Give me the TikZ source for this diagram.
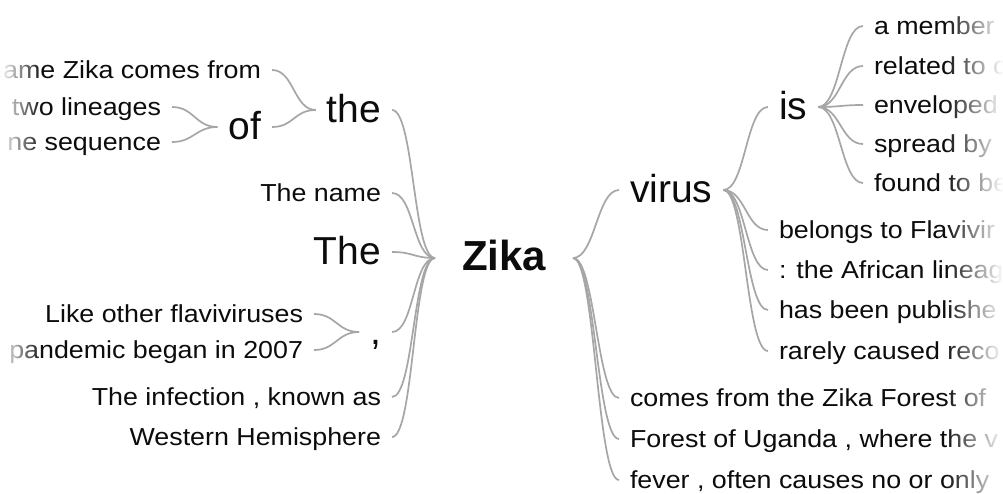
\documentclass[tikz,border=0pt]{standalone}
\usepackage{fontspec}
\setmainfont{Liberation Sans}
\newfontfamily\smallfnt{Liberation Sans}[FakeStretch=1.09]
\usetikzlibrary{fadings}
\definecolor{txt}{HTML}{0C0C0C}
\definecolor{link}{HTML}{A6A6A6}
\tikzset{
  wsmall/.style={inner sep=0pt, outer xsep=11pt, outer ysep=0pt, text height=17pt, text depth=1pt, text=txt, font=\smallfnt\fontsize{24.6}{26}\selectfont},
  wbig/.style={inner sep=0pt, outer xsep=11pt, outer ysep=0pt, text height=27pt, text depth=3pt, text=txt, font=\fontsize{39}{40}\selectfont},
  link/.style={draw=link, line width=1.7pt},
}
\begin{document}
\begin{tikzpicture}[x=1pt,y=-1pt]
\useasboundingbox (0,0) rectangle (1003,493);
\fill[white] (0,0) rectangle (1003,493);
% root
\node[inner sep=0pt, outer xsep=27pt, text height=29pt, text depth=5pt, text=txt, font=\bfseries\fontsize{42}{44}\selectfont, anchor=base west] (zika) at (435,270) {Zika};
% left side
\node[wbig, anchor=base east] (the) at (392,122) {the};
\node[wbig, anchor=base east] (of) at (272,139) {of};
\node[wsmall, anchor=base east] (l1) at (272,78) {name Zika comes from};
\node[wsmall, anchor=base east] (l2) at (172,115) {two lineages};
\node[wsmall, anchor=base east] (l3) at (172,150) {ne sequence};
\node[wsmall, anchor=base east] (l4) at (392,201) {The name};
\node[wbig, anchor=base east] (The) at (392,264) {The};
\node[wbig, anchor=base east] (comma) at (392,344) {,};
\node[wsmall, anchor=base east] (l5) at (314,322) {Like other flaviviruses};
\node[wsmall, anchor=base east] (l6) at (314,358) {pandemic began in 2007};
\node[wsmall, anchor=base east] (l7) at (392,405) {The infection , known as};
\node[wsmall, anchor=base east] (l8) at (392,445) {Western Hemisphere};
% right side
\node[wbig, anchor=base west] (virus) at (619,202) {virus};
\node[wbig, anchor=base west] (is) at (768,119) {is};
\node[wsmall, anchor=base west] (r1) at (863,34) {a member};
\node[wsmall, anchor=base west] (r2) at (863,74) {related to c};
\node[wsmall, anchor=base west] (r3) at (863,113) {enveloped};
\node[wsmall, anchor=base west] (r4) at (863,152) {spread by};
\node[wsmall, anchor=base west] (r5) at (863,191) {found to be};
\node[wsmall, anchor=base west] (v1) at (768,238) {belongs to Flavivir};
\node[wsmall, anchor=base west] (v2) at (768,278) {: the African lineag};
\node[wsmall, anchor=base west] (v3) at (768,318) {has been publishe};
\node[wsmall, anchor=base west] (v4) at (768,359) {rarely caused reco};
\node[wsmall, anchor=base west] (z1) at (619,406) {comes from the Zika Forest of};
\node[wsmall, anchor=base west] (z2) at (619,447) {Forest of Uganda , where the v};
\node[wsmall, anchor=base west] (z3) at (619,488) {fever , often causes no or only};
% connectors left
\foreach \c/\p in {l2/of, l3/of, l1/the, of/the, l5/comma, l6/comma, the/zika, l4/zika, The/zika, comma/zika, l7/zika, l8/zika}
  \draw[link] (\c.east) .. controls +(22,0) and +(-22,0) .. (\p.west);
% connectors right
\foreach \p/\c in {zika/virus, zika/z1, zika/z2, zika/z3, virus/is, virus/v1, virus/v2, virus/v3, virus/v4, is/r1, is/r2, is/r3, is/r4, is/r5}
  \draw[link] (\p.east) .. controls +(22,0) and +(-22,0) .. (\c.west);
% edge fades
\fill[white, path fading=west] (945,0) rectangle (1003,493);
\fill[white, path fading=east] (0,0) rectangle (42,493);
\end{tikzpicture}
\end{document}
